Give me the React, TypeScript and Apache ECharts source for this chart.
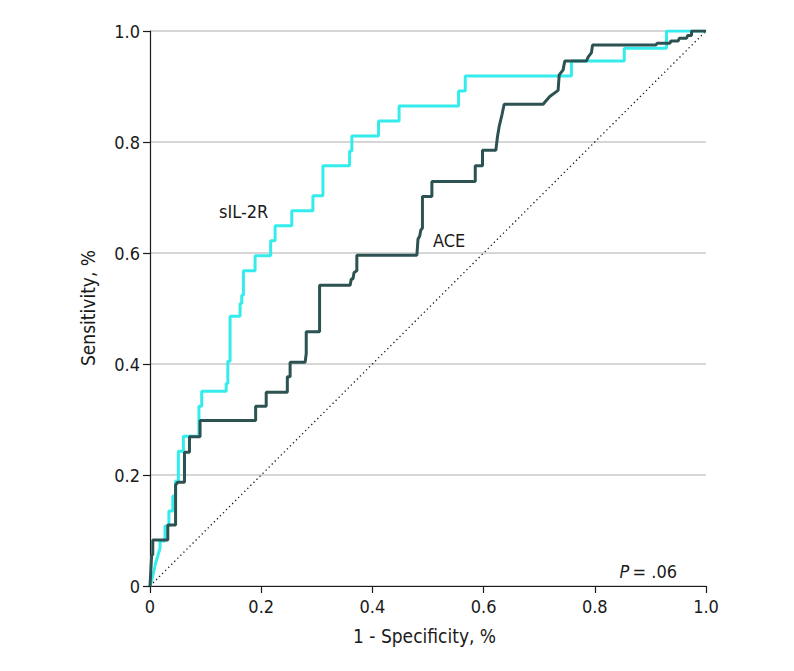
import React, { useEffect, useRef } from "react";
import * as echarts from "echarts";

const xTicks = [0, 0.2, 0.4, 0.6, 0.8, 1.0];
const yTicks = [0, 0.2, 0.4, 0.6, 0.8, 1.0];

const sil2rPoints: [number, number][] = [
  [0, 0], [0.004, 0.014], [0.007, 0.027], [0.01, 0.041], [0.014, 0.054], [0.018, 0.068], [0.018, 0.081],
  [0.027, 0.081], [0.027, 0.108], [0.034, 0.108], [0.034, 0.135], [0.041, 0.135], [0.041, 0.162],
  [0.046, 0.162], [0.046, 0.189], [0.051, 0.189], [0.051, 0.243], [0.06, 0.243], [0.06, 0.27],
  [0.088, 0.27], [0.088, 0.324], [0.093, 0.324], [0.093, 0.351], [0.137, 0.351], [0.137, 0.365],
  [0.14, 0.365], [0.14, 0.405], [0.144, 0.405], [0.144, 0.486], [0.162, 0.486], [0.162, 0.509],
  [0.165, 0.509], [0.165, 0.524], [0.168, 0.524], [0.168, 0.568], [0.189, 0.568], [0.189, 0.595],
  [0.217, 0.595], [0.217, 0.622], [0.225, 0.622], [0.225, 0.649], [0.255, 0.649], [0.255, 0.676],
  [0.293, 0.676], [0.293, 0.703], [0.311, 0.703], [0.311, 0.757], [0.359, 0.757], [0.359, 0.784],
  [0.363, 0.784], [0.363, 0.811], [0.411, 0.811], [0.411, 0.838], [0.448, 0.838], [0.448, 0.865],
  [0.555, 0.865], [0.555, 0.892], [0.567, 0.892], [0.567, 0.919], [0.758, 0.919], [0.758, 0.946],
  [0.853, 0.946], [0.853, 0.969], [0.929, 0.969], [0.929, 1], [1, 1],
];

const acePoints: [number, number][] = [
  [0, 0], [0.003, 0.056], [0.005, 0.056], [0.005, 0.083], [0.032, 0.083], [0.032, 0.11],
  [0.046, 0.11], [0.046, 0.182], [0.05, 0.187], [0.062, 0.187], [0.062, 0.241], [0.071, 0.241],
  [0.071, 0.269], [0.09, 0.269], [0.09, 0.298], [0.19, 0.298], [0.19, 0.324], [0.209, 0.324],
  [0.209, 0.349], [0.247, 0.349], [0.247, 0.377], [0.252, 0.377], [0.252, 0.403], [0.279, 0.403],
  [0.281, 0.419], [0.281, 0.458], [0.305, 0.458], [0.305, 0.542], [0.36, 0.542], [0.362, 0.553],
  [0.365, 0.553], [0.367, 0.565], [0.372, 0.568], [0.372, 0.596], [0.48, 0.596], [0.482, 0.625],
  [0.485, 0.63], [0.487, 0.641], [0.49, 0.645], [0.49, 0.702], [0.507, 0.702], [0.507, 0.729],
  [0.585, 0.729], [0.585, 0.757], [0.598, 0.757], [0.598, 0.785], [0.622, 0.785], [0.625, 0.81],
  [0.628, 0.828], [0.633, 0.849], [0.637, 0.868], [0.707, 0.868], [0.712, 0.874], [0.719, 0.882],
  [0.734, 0.893], [0.736, 0.921], [0.743, 0.93], [0.746, 0.946], [0.785, 0.946], [0.788, 0.953],
  [0.794, 0.961], [0.796, 0.975], [0.91, 0.975], [0.912, 0.978], [0.935, 0.978], [0.937, 0.982],
  [0.95, 0.982], [0.952, 0.987], [0.965, 0.987], [0.967, 0.992], [0.974, 0.992], [0.974, 1], [1, 1],
];

const referencePoints: [number, number][] = [[0, 0], [1, 1]];

const FONT = "'Liberation Sans Narrow', 'DejaVu Sans Condensed', 'Roboto', sans-serif";
const fmt = (v: number) => (v === 0 ? "0" : v.toFixed(1));

export default function App() {
  const ref = useRef<HTMLDivElement>(null);
  useEffect(() => {
    if (!ref.current) return;
    const chart = echarts.init(ref.current, null, { renderer: "svg" });
    chart.setOption({
      animation: false,
      backgroundColor: "#ffffff",
      grid: { left: 150, right: 88, top: 31, bottom: 85, containLabel: false },
      xAxis: {
        type: "value",
        min: 0,
        max: 1,
        interval: 0.2,
        axisLine: { show: true, lineStyle: { color: "#1a1a1a", width: 1.2 } },
        axisTick: { show: true, length: 7, lineStyle: { color: "#1a1a1a", width: 1.2 } },
        axisLabel: { color: "#1a1a1a", fontSize: 18, fontFamily: FONT, margin: 11, formatter: fmt },
        splitLine: { show: false },
      },
      yAxis: {
        type: "value",
        min: 0,
        max: 1,
        interval: 0.2,
        axisLine: { show: true, lineStyle: { color: "#1a1a1a", width: 1.2 } },
        axisTick: { show: true, length: 7, lineStyle: { color: "#1a1a1a", width: 1.2 } },
        axisLabel: { color: "#1a1a1a", fontSize: 18, fontFamily: FONT, margin: 10, formatter: fmt },
        splitLine: { show: true, lineStyle: { color: "#d6d6d6", width: 2 } },
      },
      graphic: [
        {
          type: "text",
          left: 428 - 75,
          top: 626,
          style: { text: "1 - Specificity, %", fontSize: 19, fontFamily: FONT, fill: "#1a1a1a", width: 150, align: "center" },
        },
        {
          type: "text",
          x: 88,
          y: 308,
          rotation: Math.PI / 2,
          style: { text: "Sensitivity, %", fontSize: 19, fontFamily: FONT, fill: "#1a1a1a", align: "center", verticalAlign: "middle" },
        },
        {
          type: "text",
          x: 219,
          y: 211,
          style: { text: "sIL-2R", fontSize: 18, fontFamily: FONT, fill: "#1a1a1a", align: "left", verticalAlign: "middle" },
        },
        {
          type: "text",
          x: 433,
          y: 240,
          style: { text: "ACE", fontSize: 18, fontFamily: FONT, fill: "#1a1a1a", align: "left", verticalAlign: "middle" },
        },
        {
          type: "text",
          x: 677,
          y: 571,
          style: {
            rich: {
              p: { fontStyle: "italic", fontSize: 18, fontFamily: FONT, fill: "#1a1a1a" },
              r: { fontSize: 18, fontFamily: FONT, fill: "#1a1a1a" },
            },
            text: "{p|P} {r|= .06}",
            align: "right",
            verticalAlign: "middle",
          },
        },
      ],
      series: [
        {
          name: "Reference",
          type: "line",
          data: referencePoints,
          showSymbol: false,
          silent: true,
          lineStyle: { color: "#1a1a1a", width: 1.3, type: [1.3, 3] },
          z: 1,
        },
        {
          name: "sIL-2R",
          type: "line",
          data: sil2rPoints,
          showSymbol: false,
          lineStyle: { color: "#34ecec", width: 3 },
          z: 2,
        },
        {
          name: "ACE",
          type: "line",
          data: acePoints,
          showSymbol: false,
          lineStyle: { color: "#2c5252", width: 3 },
          z: 3,
        },
      ],
    });
    return () => chart.dispose();
  }, []);
  return (
    <div
      ref={ref}
      style={{ position: "fixed", left: 0, top: 0, width: 794, height: 671, background: "#fff" }}
    />
  );
}
